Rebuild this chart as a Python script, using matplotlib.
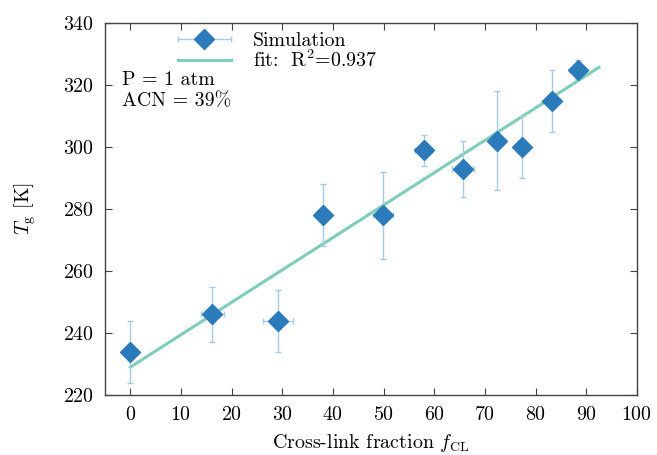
import matplotlib
matplotlib.use("Agg")
import matplotlib.pyplot as plt
from matplotlib.ticker import MultipleLocator
from matplotlib.lines import Line2D
from matplotlib.legend_handler import HandlerBase

plt.rcParams['mathtext.fontset'] = 'cm'
plt.rcParams['font.family'] = ['cmr10', 'DejaVu Serif']
plt.rcParams['axes.unicode_minus'] = False
plt.rcParams['axes.formatter.use_mathtext'] = True

# Data
f_cl = [0.0, 16.2, 29.2, 38.1, 49.8, 57.9, 65.6, 72.3, 77.3, 83.2, 88.3]
tg = [234, 246, 244, 278, 278, 299, 293, 302, 300, 315, 325]
tg_err = [10, 9, 10, 10, 14, 5, 9, 16, 10, 10, 3]
f_err = [0.0, 2.2, 3.0, 0.0, 2.0, 1.7, 2.2, 1.2, 0.0, 0.0, 0.0]
fit_x = [0.0, 92.5]
fit_y = [229.0, 325.7]
fit_r2 = 0.937

MC = '#2b7bba'
EC = '#a6cbe3'
FC = '#7fcdbb'

fig = plt.figure(figsize=(6.57, 4.55), dpi=100)
ax = fig.add_axes([105/657, 1-395/455, (637-105)/657, (395-23)/455])

eb = ax.errorbar(f_cl, tg, yerr=tg_err, xerr=f_err, fmt='D', color=MC,
                 ms=10, ecolor=EC, elinewidth=1.0, capsize=2.5, capthick=1.0,
                 zorder=3)
fl, = ax.plot(fit_x, fit_y, color=FC, lw=2.2, zorder=2)


class ErrHandler(HandlerBase):
    def create_artists(self, legend, orig, xdescent, ydescent, width, height,
                       fontsize, trans):
        y = (height - ydescent) / 2
        x0, x1 = -xdescent, -xdescent + width
        bar = Line2D([x0, x1], [y, y], color=EC, lw=1.0, transform=trans)
        caps = Line2D([x0, x1], [y, y], ls='none', marker='|', ms=5,
                      mew=1.0, color=EC, transform=trans)
        d = Line2D([(x0 + x1) / 2], [y], ls='none', marker='D', ms=10,
                   color=MC, transform=trans)
        return [bar, caps, d]


ax.set_xlim(-5, 100)
ax.set_ylim(220, 340)
ax.xaxis.set_major_locator(MultipleLocator(10))
ax.yaxis.set_major_locator(MultipleLocator(20))
ax.tick_params(direction='in', top=True, right=True, length=5, width=0.8,
               labelsize=14.4, pad=8, color='#444444')
for s in ax.spines.values():
    s.set_color('#444444')
    s.set_linewidth(1.0)

ax.set_xlabel(r'Cross-link fraction $f_{\mathrm{CL}}$', fontsize=14.4, labelpad=6)
ax.set_ylabel(r'$T_{\mathrm{g}}$ [K]', fontsize=14.4, labelpad=18)

ax.text(0.032, 0.847, 'P = 1 atm', transform=ax.transAxes, fontsize=14.3, va='center')
ax.text(0.032, 0.790, 'ACN = 39%', transform=ax.transAxes, fontsize=14.3, va='center')

leg = ax.legend([eb, fl], ['Simulation', r'fit:  R$^2$=%.3f' % fit_r2],
                handler_map={type(eb): ErrHandler()},
                loc='upper left', bbox_to_anchor=(0.103, 1.024), frameon=False,
                fontsize=14.3, handlelength=2.67, labelspacing=0.0,
                handletextpad=1.1)

fig.savefig('out.png', dpi=100)
